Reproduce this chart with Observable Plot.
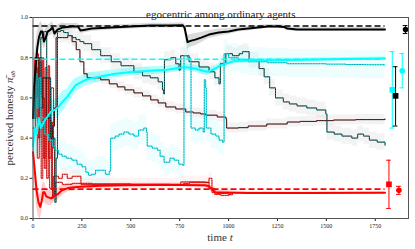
<!DOCTYPE html>
<html><head><meta charset="utf-8">
<script src="https://cdn.jsdelivr.net/npm/d3@7"></script>
<script src="https://cdn.jsdelivr.net/npm/@observablehq/plot@0.6"></script>
<style>body{margin:0;background:#fff}</style>
</head><body><div id="chart"></div>
<script>
const titleText = "egocentric among ordinary agents";
const xTicks = [0, 250, 500, 750, 1000, 1250, 1500, 1750];
const yTicks = [0, 0.2, 0.4, 0.6, 0.8, 1.0];

// thick means: [t, value, band half-width]
const blackMean = [[0,0.5,0.12],[5,0.65,0.12],[13,0.75,0.1],[22,0.85,0.08],[30,0.9,0.06],[40,0.93,0.05],[48,0.93,0.04],[56,0.88,0.04],[65,0.9,0.04],[75,0.93,0.03],[90,0.94,0.03],[100,0.95,0.03],[110,0.92,0.03],[125,0.94,0.02],[150,0.95,0.02],[200,0.955,0.015],[230,0.955,0.015],[243,0.935,0.015],[260,0.938,0.015],[300,0.945,0.015],[400,0.95,0.012],[500,0.955,0.012],[600,0.96,0.012],[700,0.96,0.012],[765,0.962,0.012],[775,0.95,0.02],[790,0.878,0.035],[810,0.885,0.03],[830,0.89,0.03],[860,0.9,0.025],[900,0.915,0.02],[950,0.925,0.018],[1000,0.93,0.015],[1050,0.94,0.012],[1100,0.945,0.012],[1150,0.95,0.01],[1200,0.955,0.01],[1250,0.955,0.01],[1284,0.953,0.01],[1300,0.945,0.01],[1350,0.94,0.01],[1450,0.94,0.01],[1600,0.94,0.01],[1800,0.94,0.01]];
const cyanMean = [[0,0.36,0.12],[10,0.45,0.12],[20,0.42,0.12],[30,0.5,0.1],[40,0.45,0.1],[55,0.48,0.08],[73,0.505,0.07],[90,0.53,0.06],[110,0.54,0.05],[132,0.556,0.05],[150,0.58,0.05],[175,0.605,0.04],[200,0.64,0.04],[218,0.663,0.035],[250,0.68,0.03],[277,0.693,0.03],[346,0.707,0.025],[420,0.72,0.02],[516,0.73,0.02],[600,0.735,0.02],[687,0.74,0.018],[773,0.754,0.018],[830,0.745,0.018],[870,0.735,0.018],[893,0.73,0.018],[920,0.74,0.015],[961,0.763,0.015],[1000,0.775,0.012],[1029,0.783,0.012],[1100,0.785,0.01],[1200,0.787,0.01],[1400,0.79,0.008],[1600,0.793,0.008],[1800,0.796,0.008]];
const redMean = [[0,0.33,0.08],[8,0.25,0.08],[18,0.14,0.08],[28,0.08,0.07],[37,0.058,0.06],[45,0.09,0.06],[52,0.13,0.05],[59,0.13,0.05],[68,0.11,0.04],[79,0.105,0.04],[92,0.1,0.035],[105,0.11,0.03],[125,0.12,0.03],[148,0.14,0.025],[175,0.15,0.02],[199,0.154,0.018],[240,0.158,0.015],[284,0.16,0.012],[350,0.163,0.01],[450,0.165,0.01],[600,0.167,0.008],[750,0.167,0.008],[880,0.165,0.01],[900,0.16,0.015],[930,0.13,0.015],[960,0.129,0.01],[1100,0.127,0.006],[1400,0.127,0.005],[1800,0.128,0.005]];

// reference (dashed) levels
const blackRef = 0.958;
const cyanRef = 0.792;
const redRef = 0.146;
const refSpan = [0, 1800];

// individual agents: [t, value]
const agentA = [[0,0.5],[10,0.7],[25,0.62],[40,0.9],[55,0.93],[70,0.7],[90,0.4],[112,0.08],[118,0.3],[125,0.93],[140,0.935],[157,0.925],[180,0.91],[200,0.9],[220,0.89],[240,0.88],[260,0.87],[300,0.84],[346,0.81],[400,0.78],[450,0.76],[516,0.73],[560,0.71],[600,0.7],[640,0.68],[662,0.64],[668,0.62],[672,0.79],[705,0.8],[730,0.77],[747,0.738],[752,0.74],[755,0.81],[798,0.78],[849,0.754],[900,0.73],[930,0.7],[951,0.67],[958,0.77],[986,0.82],[1020,0.81],[1054,0.82],[1071,0.83],[1105,0.787],[1156,0.746],[1182,0.705],[1210,0.65],[1240,0.6],[1280,0.58],[1311,0.57],[1350,0.56],[1400,0.55],[1450,0.54],[1497,0.52],[1503,0.43],[1540,0.42],[1580,0.41],[1630,0.4],[1660,0.42],[1690,0.41],[1720,0.39],[1760,0.38],[1800,0.365]];
const agentB = [[0,0.5],[15,0.8],[30,0.55],[50,0.7],[70,0.5],[90,0.4],[100,0.46],[110,0.55],[118,0.9],[150,0.9],[178,0.91],[200,0.88],[221,0.84],[240,0.78],[260,0.72],[277,0.7],[300,0.7],[346,0.69],[390,0.67],[431,0.655],[470,0.64],[516,0.625],[560,0.61],[602,0.59],[640,0.575],[679,0.555],[730,0.545],[781,0.53],[820,0.525],[857,0.52],[883,0.514],[942,0.505],[986,0.497],[990,0.45],[1050,0.452],[1100,0.46],[1195,0.47],[1300,0.48],[1366,0.483],[1450,0.487],[1537,0.49],[1650,0.492],[1800,0.495]];
const agentC = [[0,0.5],[10,0.72],[20,0.55],[30,0.7],[40,0.5],[60,0.42],[79,0.39],[100,0.36],[113,0.34],[130,0.32],[148,0.31],[170,0.3],[199,0.29],[225,0.27],[250,0.257],[270,0.23],[284,0.215],[300,0.22],[320,0.24],[346,0.24],[370,0.22],[390,0.235],[397,0.4],[420,0.41],[440,0.42],[465,0.43],[490,0.42],[516,0.41],[540,0.44],[567,0.45],[580,0.43],[584,0.36],[610,0.35],[636,0.34],[650,0.31],[670,0.28],[700,0.3],[722,0.29],[745,0.27],[765,0.265],[772,0.81],[790,0.8],[806,0.79],[808,0.45],[830,0.44],[849,0.45],[870,0.43],[876,0.69],[883,0.65],[886,0.45],[910,0.42],[935,0.41],[951,0.39],[969,0.38],[977,0.82],[1000,0.8],[1050,0.79],[1100,0.78],[1200,0.775],[1300,0.77],[1400,0.77],[1500,0.768],[1600,0.766],[1700,0.765],[1800,0.763]];
const agentRed1 = [[0,0.5],[8,0.8],[15,0.6],[20,0.82],[28,0.4],[35,0.78],[42,0.2],[50,0.8],[55,0.3],[62,0.75],[70,0.2],[78,0.76],[85,0.15],[95,0.48],[100,0.1],[104,0.21],[130,0.2],[150,0.22],[175,0.2],[200,0.21],[240,0.21],[245,0.17],[400,0.17],[600,0.17],[750,0.17],[756,0.182],[866,0.182],[880,0.18],[900,0.2],[910,0.2],[915,0.13],[940,0.125],[1000,0.12],[1011,0.128]];
const agentRed2 = [[0,0.45],[12,0.75],[22,0.3],[32,0.8],[45,0.6],[58,0.25],[66,0.7],[80,0.3],[92,0.65],[105,0.35],[110,0.12],[115,0.18],[150,0.17],[200,0.175],[300,0.172],[500,0.17],[700,0.168],[770,0.175],[800,0.18],[880,0.18],[900,0.15],[930,0.12],[960,0.115],[1000,0.118],[1020,0.128]];

// error bars at right
const errX = [1820, 1837, 1854, 1871, 1888, 1905];
const errY = [0.17, 0.64, 0.61, 0.14, 0.735, 0.94];
const errLo = [0.05, 0.45, 0.46, 0.12, 0.65, 0.92];
const errHi = [0.29, 0.83, 0.755, 0.16, 0.82, 0.96];
const errColor = ["#ff0000", "#00ffff", "#000000", "#ff0000", "#00ffff", "#000000"];
const errSymbol = ["square", "square", "square", "circle", "circle", "circle"];

const toObj = arr => arr.map(([t, v, w]) => ({t, v, w: w ?? 0}));
const bM = toObj(blackMean), cM = toObj(cyanMean), rM = toObj(redMean);
const aA = toObj(agentA), aB = toObj(agentB), aC = toObj(agentC), r1 = toObj(agentRed1), r2 = toObj(agentRed2);
const errs = errX.map((x, i) => ({x, y: errY[i], lo: errLo[i], hi: errHi[i], c: errColor[i], s: errSymbol[i]}));
const refs = [{v: blackRef, c: "#000"}, {v: cyanRef, c: "#00ffff"}, {v: redRef, c: "#ff0000"}];

const font = "'Liberation Serif', 'DejaVu Serif', serif";
const band = (d, w, fill, op) => Plot.areaY(d, {x: "t", y1: p => p.v - w, y2: p => p.v + w, fill, fillOpacity: op, curve: "step-after"});

const chart = Plot.plot({
  width: 415, height: 249,
  marginTop: 17, marginBottom: 31, marginLeft: 32.5, marginRight: 7,
  style: {fontFamily: font, fontSize: "6px", background: "#fff", color: "#222"},
  x: {domain: [0, 1920]},
  y: {domain: [0, 1]},
  marks: [
    // agent bands
    band(aA, 0.04, "#d0d0d0", 0.25),
    band(aB, 0.025, "#d0d0d0", 0.25),
    band(aC, 0.07, "#c8fafa", 0.3),
    band(r1, 0.03, "#ffd0d0", 0.25),
    // mean bands
    Plot.areaY(bM, {x: "t", y1: d => d.v - d.w, y2: d => d.v + d.w, fill: "#999", fillOpacity: 0.35}),
    Plot.areaY(cM, {x: "t", y1: d => d.v - d.w, y2: d => d.v + d.w, fill: "#00ffff", fillOpacity: 0.3}),
    Plot.areaY(rM, {x: "t", y1: d => d.v - d.w, y2: d => d.v + d.w, fill: "#ff0000", fillOpacity: 0.2}),
    // red agents
    Plot.line(r1, {x: "t", y: "v", stroke: "#ff0000", strokeWidth: 0.8, curve: "step-after"}),
    Plot.line(r1, {x: "t", y: "v", stroke: "#600", strokeWidth: 0.5, strokeDasharray: "0.8,1.6", curve: "step-after"}),
    Plot.line(r2, {x: "t", y: "v", stroke: "#ff0000", strokeWidth: 0.8, curve: "step-after"}),
    Plot.line(r2, {x: "t", y: "v", stroke: "#600", strokeWidth: 0.5, strokeDasharray: "0.8,1.6", curve: "step-after"}),
    // agent lines
    Plot.line(aB, {x: "t", y: "v", stroke: "#111", strokeWidth: 1, curve: "step-after"}),
    Plot.line(aB, {x: "t", y: "v", stroke: "#ff2020", strokeWidth: 0.5, strokeDasharray: "0.6,2", curve: "step-after"}),
    Plot.line(aA, {x: "t", y: "v", stroke: "#111", strokeWidth: 1, curve: "step-after"}),
    Plot.line(aA, {x: "t", y: "v", stroke: "#00ffff", strokeWidth: 0.5, strokeDasharray: "0.6,2", curve: "step-after"}),
    Plot.line(aC, {x: "t", y: "v", stroke: "#00eeee", strokeWidth: 1, curve: "step-after"}),
    Plot.line(aC, {x: "t", y: "v", stroke: "#246", strokeWidth: 0.5, strokeDasharray: "0.6,2", curve: "step-after"}),
    // means
    Plot.line(rM, {x: "t", y: "v", stroke: "#ff0000", strokeWidth: 2}),
    Plot.line(cM, {x: "t", y: "v", stroke: "#00ffff", strokeWidth: 2}),
    Plot.line(bM, {x: "t", y: "v", stroke: "#000", strokeWidth: 2}),
    // dashed references
    Plot.ruleY(refs, {y: "v", x1: refSpan[0], x2: refSpan[1], stroke: "c", strokeWidth: 1.6, strokeDasharray: "6,3"}),
    // error bars
    Plot.ruleX(errs, {x: "x", y1: "lo", y2: "hi", stroke: "c", strokeWidth: 1}),
    Plot.ruleY(errs, {y: "lo", x1: d => d.x - 12, x2: d => d.x + 12, stroke: "c", strokeWidth: 1}),
    Plot.ruleY(errs, {y: "hi", x1: d => d.x - 12, x2: d => d.x + 12, stroke: "c", strokeWidth: 1}),
    Plot.dot(errs.filter(d => d.s === "square"), {x: "x", y: "y", fill: "c", symbol: "square", r: 3.2, stroke: null}),
    Plot.dot(errs.filter(d => d.s === "circle"), {x: "x", y: "y", fill: "c", symbol: "circle", r: 2.8, stroke: null}),
    // axes & frame
    Plot.axisX({ticks: xTicks, tickSize: 3, tickPadding: 2, tickFormat: d => String(d), label: null, fontSize: 6}),
    Plot.axisY({ticks: yTicks, tickSize: 3, tickPadding: 2, tickFormat: ".1f", label: null, fontSize: 6}),
    Plot.frame({stroke: "#555", strokeWidth: 1}),
    Plot.text([titleText], {frameAnchor: "top", dy: -7, fontSize: 11, fill: "#222", fontFamily: font})
  ]
});
document.getElementById("chart").appendChild(chart);

// axis titles with italic / subscript parts
const svg = d3.select(chart);
const xl = svg.append("text").attr("x", 220).attr("y", 241).attr("text-anchor", "middle")
  .attr("font-family", font).attr("font-size", 11).attr("fill", "#333");
xl.append("tspan").text("time ");
xl.append("tspan").attr("font-style", "italic").text("t");
const yl = svg.append("text").attr("transform", "translate(13,118) rotate(-90)").attr("text-anchor", "middle")
  .attr("font-family", font).attr("font-size", 11).attr("fill", "#333");
yl.append("tspan").text("perceived honesty ");
yl.append("tspan").attr("font-style", "italic").text("π\u0304");
yl.append("tspan").attr("font-style", "italic").attr("font-size", 7).attr("dy", 2).text("ab");
</script></body></html>
